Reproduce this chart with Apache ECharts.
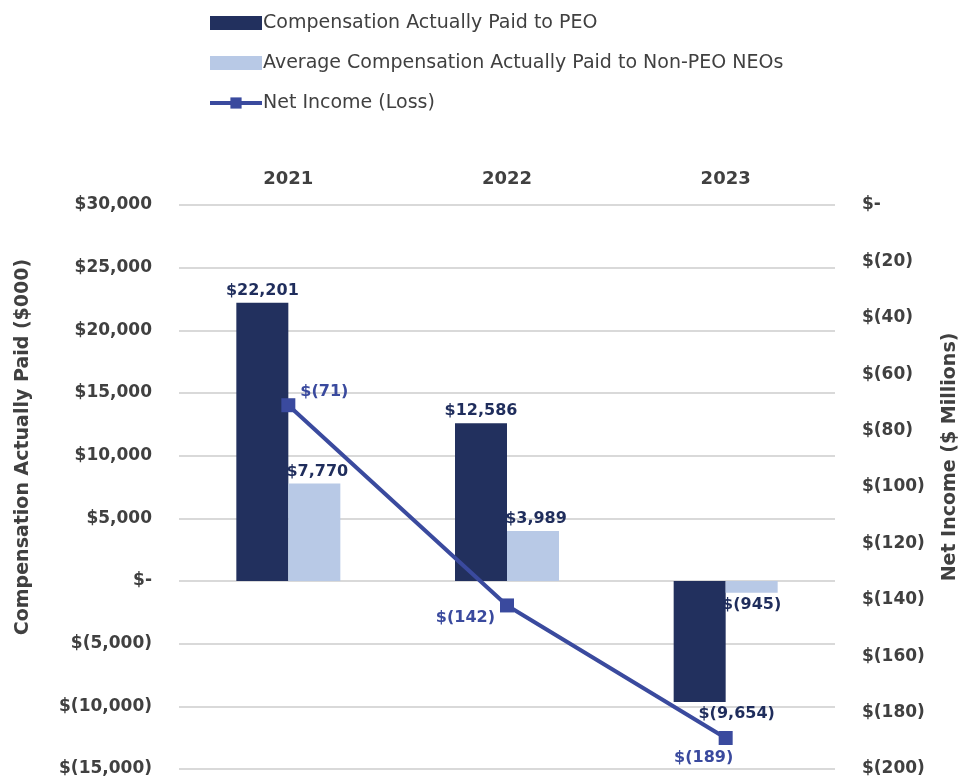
<!DOCTYPE html>
<html>
<head>
<meta charset="utf-8">
<script src="https://cdn.jsdelivr.net/npm/echarts@6/dist/echarts.min.js"></script>
<style>
  html, body { margin: 0; padding: 0; background: #fff; }
  #main { width: 960px; height: 783px; }
</style>
</head>
<body>
<div id="main"></div>
<script>
var years = ['2021', '2022', '2023'];
var peoPaid = [22201, 12586, -9654];
var neoPaid = [7770, 3989, -945];
var netIncome = [-71, -142, -189];

var font = 'DejaVu Sans';

function money(v) {
  if (v === 0) return '$-';
  var s = Math.abs(v).toLocaleString('en-US');
  return v < 0 ? '$(' + s + ')' : '$' + s;
}

var chart = echarts.init(document.getElementById('main'));

var barLabel = {
  show: true,
  position: 'top',
  distance: 4,
  color: '#1f2d5c',
  fontFamily: font,
  fontWeight: 'bold',
  fontSize: 16,
  formatter: function (p) { return money(p.value); }
};

var peoData = peoPaid.map(function (v, i) {
  if (v < 0) return { value: v, label: { position: 'bottom', offset: [37, 0] } };
  return v;
});
var neoData = neoPaid.map(function (v) {
  if (v < 0) return { value: v, label: { position: 'bottom' } };
  return { value: v, label: { offset: [3, 0] } };
});
var lineLabelPos = [
  { position: 'right', offset: [0, -13] },
  { position: 'left', offset: [0, 12] },
  { position: 'bottom', offset: [-22, 0] }
];
var lineData = netIncome.map(function (v, i) {
  return { value: v, label: lineLabelPos[i] };
});

var tickStyle = { color: '#404040', fontFamily: font, fontWeight: 'bold', fontSize: 17 };

var option = {
  animation: false,
  backgroundColor: '#ffffff',
  legend: {
    orient: 'vertical',
    left: 203,
    top: 8,
    itemWidth: 52,
    itemHeight: 14,
    itemGap: 20,
    textStyle: { fontFamily: font, fontSize: 19, color: '#404040', lineHeight: 20, padding: [0, 0, 0, -4] },
    data: [
      { name: 'Compensation Actually Paid to PEO', icon: 'rect' },
      { name: 'Average Compensation Actually Paid to Non-PEO NEOs', icon: 'rect' },
      { name: 'Net Income (Loss)', lineStyle: { width: 4 } }
    ]
  },
  grid: { left: 179, right: 125, top: 205, bottom: 14, outerBoundsMode: 'none' },
  xAxis: {
    type: 'category',
    position: 'top',
    data: years,
    axisLine: { show: false },
    axisTick: { show: false },
    axisLabel: { margin: 17, color: '#404040', fontFamily: font, fontWeight: 'bold', fontSize: 18 }
  },
  yAxis: [
    {
      type: 'value',
      min: -15000,
      max: 30000,
      interval: 5000,
      name: 'Compensation Actually Paid ($000)',
      nameLocation: 'middle',
      nameGap: 146,
      nameTextStyle: { fontFamily: font, fontWeight: 'bold', fontSize: 19, color: '#404040', padding: [0, 0, 0, 80] },
      axisLine: { show: false },
      axisTick: { show: false },
      splitLine: { lineStyle: { color: '#d9d9d9', width: 2 } },
      axisLabel: Object.assign({ margin: 27, formatter: money }, tickStyle)
    },
    {
      type: 'value',
      min: -200,
      max: 0,
      interval: 20,
      position: 'right',
      name: 'Net Income ($ Millions)',
      nameLocation: 'middle',
      nameGap: 106,
      nameRotate: 90,
      nameTextStyle: { fontFamily: font, fontWeight: 'bold', fontSize: 19, color: '#404040', padding: [0, 0, 0, 60] },
      axisLine: { show: false },
      axisTick: { show: false },
      splitLine: { show: false },
      axisLabel: Object.assign({ margin: 27, formatter: money }, tickStyle)
    }
  ],
  series: [
    {
      name: 'Compensation Actually Paid to PEO',
      type: 'bar',
      barWidth: 52,
      barGap: '0%',
      itemStyle: { color: '#22305e' },
      label: barLabel,
      data: peoData
    },
    {
      name: 'Average Compensation Actually Paid to Non-PEO NEOs',
      type: 'bar',
      barWidth: 52,
      barGap: '0%',
      itemStyle: { color: '#b8c9e6' },
      label: barLabel,
      data: neoData
    },
    {
      name: 'Net Income (Loss)',
      type: 'line',
      yAxisIndex: 1,
      symbol: 'rect',
      symbolSize: 14,
      lineStyle: { color: '#3a4a9e', width: 4 },
      itemStyle: { color: '#3a4a9e' },
      label: {
        show: true,
        color: '#3a4a9e',
        fontFamily: font,
        fontWeight: 'bold',
        fontSize: 16,
        formatter: function (p) { return money(p.value); }
      },
      data: lineData,
      z: 5
    }
  ]
};

chart.setOption(option);
</script>
</body>
</html>
